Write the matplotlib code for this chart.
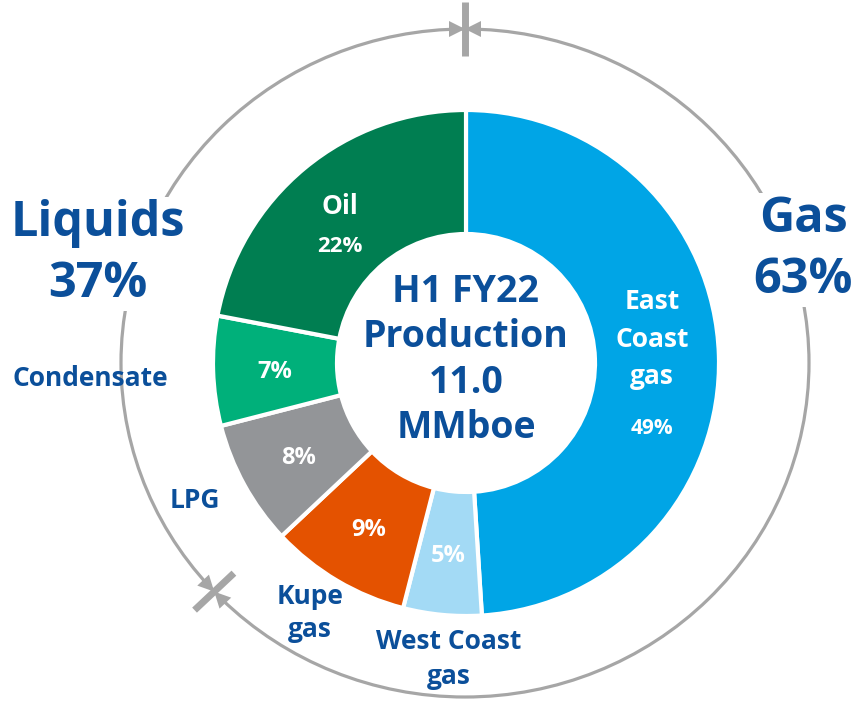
import numpy as np
import matplotlib.pyplot as plt
from matplotlib.patches import Ellipse, Polygon

plt.rcParams['font.family'] = ['Open Sans', 'DejaVu Sans']
plt.rcParams['font.weight'] = 'bold'

# data
segments = ['East Coast gas', 'West Coast gas', 'Kupe gas', 'LPG', 'Condensate', 'Oil']
shares = [49, 5, 9, 8, 7, 22]
colors = ['#00A5E6', '#A3DAF5', '#E45200', '#939598', '#00B07A', '#007E51']
group_names = ['Gas', 'Liquids']
group_shares = [63, 37]
centre_text = 'H1 FY22\nProduction\n11.0\nMMboe'

BLUE = '#0B4F9A'
GREY = '#A6A6A6'
W, H = 864, 710

fig = plt.figure(figsize=(W / 100, H / 100), dpi=100)
ax = fig.add_axes([0, 0, 1, 1])

# donut (pixel coordinates, y up)
cx, cy = 466, H - 363
r_out, r_in = 253, 129
wedges, _ = ax.pie(shares, colors=colors, startangle=90, counterclock=False,
                   center=(cx, cy), radius=r_out,
                   wedgeprops=dict(width=r_out - r_in, edgecolor='white', linewidth=3))

ax.set_xlim(0, W)
ax.set_ylim(0, H)
ax.set_aspect('equal')
ax.axis('off')

# labels inside the ring
r_mid = (r_out + r_in) / 2
for i, w in enumerate(wedges):
    ang = np.deg2rad((w.theta1 + w.theta2) / 2)
    x = cx + r_mid * np.cos(ang)
    y = cy + r_mid * np.sin(ang)
    pct = f'{shares[i]}%'
    if segments[i] == 'East Coast gas':
        ax.text(x - 5, y + 18, 'East\nCoast\ngas', ha='center', va='center', color='white',
                fontsize=19, linespacing=1.5)
        ax.text(x - 5, y - 71, pct, ha='center', va='center', color='white', fontsize=15)
    elif segments[i] == 'Oil':
        ax.text(x - 4, y + 9, 'Oil', ha='center', va='center', color='white', fontsize=19)
        ax.text(x - 4, y - 31, pct, ha='center', va='center', color='white', fontsize=16)
    else:
        ax.text(x, y - 3, pct, ha='center', va='center', color='white', fontsize=17)

# outside segment names
outside = {
    'Condensate': ('Condensate', 90, 378, 1.0),
    'LPG': ('LPG', 195, 500, 1.0),
    'Kupe gas': ('Kupe\ngas', 310, 613, 1.27),
    'West Coast gas': ('West Coast\ngas', 449, 659, 1.38),
}
for name, (txt, x, y, ls) in outside.items():
    ax.text(x, H - y, txt, ha='center', va='center', color=BLUE, fontsize=19, linespacing=ls)

# centre text
ax.text(cx, cy + 3, centre_text, ha='center', va='center', color=BLUE,
        fontsize=27, linespacing=1.26)

# outer grey ellipse with split ticks
ex, ey = 465, H - 363
a, b = 344, 334
ax.add_patch(Ellipse((ex, ey), 2 * a, 2 * b, fill=False, edgecolor=GREY, lw=2.3, zorder=1))

split_angles = [90, 90 - group_shares[0] / 100 * 360]
for t_deg in split_angles:
    t = np.deg2rad(t_deg)
    px, py = ex + a * np.cos(t), ey + b * np.sin(t)
    nrm = np.array([np.cos(t), np.sin(t)])
    tan = np.array([-a * np.sin(t), b * np.cos(t)])
    tan = tan / np.linalg.norm(tan)
    half = 27
    ax.plot([px - nrm[0] * half, px + nrm[0] * half],
            [py - nrm[1] * half, py + nrm[1] * half], color=GREY, lw=5, solid_capstyle='butt')
    for s in (1, -1):
        base = np.array([px, py]) + s * tan * 16
        pts = [(px, py), tuple(base + nrm * 8), tuple(base - nrm * 8)]
        ax.add_patch(Polygon(pts, closed=True, color=GREY, lw=0))

# group labels
bx = dict(facecolor='white', edgecolor='none', pad=2)
ax.text(98, H - 254, f'{group_names[1]}\n{group_shares[1]}%', ha='center', va='center',
        color=BLUE, fontsize=35, linespacing=1.3, bbox=bx, zorder=3)
ax.text(803, H - 250, f'{group_names[0]}\n{group_shares[0]}%', ha='center', va='center',
        color=BLUE, fontsize=35, linespacing=1.3, bbox=bx, zorder=3)

fig.savefig('out.png', dpi=100)
